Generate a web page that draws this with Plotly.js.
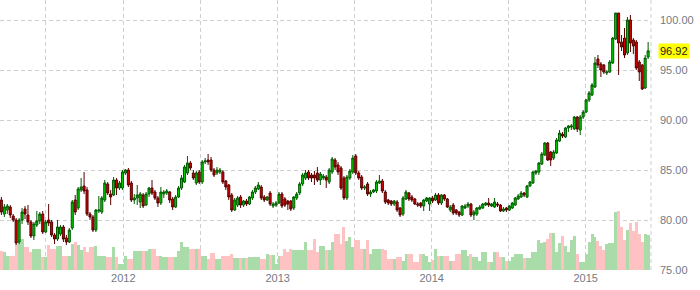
<!DOCTYPE html>
<html>
<head>
<meta charset="utf-8">
<script src="https://cdn.plot.ly/plotly-3.0.1.min.js"></script>
<style>html,body{margin:0;padding:0;background:#fff;}#chart{width:700px;height:290px;}</style>
</head>
<body>
<div id="chart"></div>
<script>
// Weekly bars, first week ending 2011-03-18
const firstWeek = '2011-03-18';
const weekCount = 220;

const openP = [
82.0,80.6,81.0,81.3,80.4,80.0,77.8,80.0,81.1,80.5,
79.8,78.4,79.5,79.9,80.6,78.8,80.0,79.8,78.5,78.1,
78.6,79.3,78.2,77.8,79.2,82.0,81.2,83.0,83.4,83.0,
80.6,80.3,79.0,80.9,80.8,82.0,83.6,82.6,82.5,84.0,
83.2,83.2,84.7,85.0,83.7,82.0,82.2,81.8,82.5,81.5,
82.6,83.2,82.8,82.2,81.7,82.6,82.7,82.8,82.1,81.3,
82.3,83.2,83.8,84.7,85.7,84.7,83.7,84.8,83.8,85.8,
86.0,86.0,85.0,84.7,84.8,84.8,83.9,83.5,82.5,81.0,
81.5,82.3,81.5,81.9,81.6,82.2,82.8,83.1,83.3,82.3,
82.0,82.7,81.4,81.5,81.7,82.6,82.1,81.9,81.9,81.2,
82.2,82.7,83.6,84.2,84.8,84.5,84.5,84.7,84.0,84.2,
84.3,83.8,84.8,86.0,85.5,85.2,84.2,82.2,84.2,84.8,
86.4,84.7,84.3,83.2,83.6,82.6,82.8,82.9,83.7,83.9,
82.8,82.0,81.9,81.6,81.8,81.2,80.6,82.1,82.7,82.3,
82.1,81.6,81.7,81.4,81.9,81.6,82.2,82.0,82.5,81.7,
82.5,82.1,81.0,81.5,81.0,80.8,80.5,81.2,81.4,81.6,
80.5,80.6,81.1,81.2,81.5,81.7,81.4,81.3,81.6,81.5,
80.9,81.2,81.0,81.2,81.5,82.1,82.3,82.7,82.3,83.4,
83.7,84.7,84.8,85.6,86.5,87.7,86.8,86.2,86.7,87.9,
88.6,88.3,89.2,89.3,89.1,90.3,89.0,90.3,90.8,92.0,
92.5,93.3,96.1,95.6,95.5,94.7,94.8,95.7,98.1,100.7,
97.8,98.2,96.7,100.0,98.0,97.8,95.8,95.5,93.2,96.3
];
const highP = [
82.3,81.6,81.6,81.5,80.6,80.2,80.2,81.2,81.4,81.5,
80.0,79.8,80.9,80.8,80.9,80.0,81.6,80.0,78.7,80.0,
79.5,79.5,78.5,79.2,82.0,82.5,83.3,84.2,84.8,83.3,
80.8,80.5,81.1,82.4,82.4,84.0,83.8,83.0,84.3,84.2,
83.9,85.0,85.1,85.2,83.9,82.6,83.5,82.8,82.7,82.8,
83.3,84.0,83.0,82.4,83.3,83.0,83.1,82.9,82.3,82.5,
83.4,84.5,85.5,86.4,85.9,85.0,84.9,85.0,86.0,86.2,
86.6,86.3,85.2,85.3,85.2,85.0,84.0,83.6,82.7,82.2,
82.4,82.5,82.0,82.1,82.4,83.0,83.4,83.8,83.5,82.5,
82.4,82.9,81.8,81.9,82.8,82.8,82.3,82.0,82.0,82.4,
82.8,83.8,84.7,85.0,85.0,84.7,84.9,85.3,84.8,84.6,
84.5,85.2,86.3,86.2,85.8,85.4,84.4,84.5,85.1,86.5,
86.6,84.9,84.5,83.5,83.8,83.0,83.1,84.0,84.5,84.1,
83.0,82.1,82.0,82.0,82.0,81.3,82.4,83.0,82.8,82.5,
82.2,81.8,81.8,82.1,82.3,82.3,82.4,82.7,82.7,82.6,
82.6,82.2,81.5,81.7,81.1,80.9,81.5,81.6,81.8,81.7,
81.0,81.3,81.5,81.7,81.8,82.2,81.7,82.2,81.8,81.6,
81.3,81.3,81.5,81.8,82.3,82.6,82.9,82.8,83.5,83.9,
84.9,85.0,85.8,86.8,87.8,87.8,86.9,87.0,88.2,89.0,
88.8,89.3,89.5,89.6,90.4,90.4,90.5,91.0,92.1,92.9,
93.7,96.3,96.5,95.8,95.6,95.0,96.0,98.3,100.7,100.7,
98.5,99.2,100.3,100.5,98.2,98.0,96.0,95.6,96.5,97.8
];
const lowP = [
80.5,80.3,80.6,80.2,79.8,77.5,77.6,79.6,80.1,79.5,
78.2,78.0,79.3,79.6,78.6,78.7,79.4,78.3,77.6,77.9,
78.4,77.8,77.5,77.7,79.0,80.5,81.0,82.8,82.6,80.4,
80.0,78.8,78.8,80.7,80.6,81.8,82.5,81.5,82.4,82.5,
83.0,83.0,84.5,83.3,81.8,81.6,81.5,81.2,81.2,81.4,
82.3,82.5,82.0,81.3,81.5,82.2,82.5,81.7,81.0,81.2,
82.2,83.0,83.7,84.5,85.0,84.0,83.5,83.6,83.6,85.6,
85.5,84.8,84.3,84.5,84.6,83.6,83.0,82.0,80.8,80.9,
81.3,81.2,81.3,81.4,81.5,82.0,82.6,83.0,82.0,81.8,
81.9,81.4,81.2,81.3,81.6,81.2,81.3,81.0,80.9,81.0,
82.0,82.5,83.4,84.0,84.0,83.8,83.5,83.8,83.5,84.0,
83.2,83.6,84.6,85.0,84.5,83.0,82.0,82.0,84.0,84.6,
84.5,84.0,83.0,83.0,82.4,82.3,82.7,82.7,83.6,82.7,
81.6,81.5,81.4,81.4,80.8,80.3,80.4,82.0,81.9,81.8,
81.5,81.3,81.2,80.9,81.8,80.9,81.7,81.9,81.5,81.5,
81.9,81.2,80.8,80.5,80.5,80.3,80.4,81.1,81.2,80.3,
80.0,80.4,81.0,81.1,81.4,81.3,81.3,81.2,81.3,80.8,
80.8,80.8,80.9,81.1,81.4,82.0,82.2,82.3,82.2,83.3,
83.6,84.5,84.5,85.5,86.4,85.9,85.4,86.0,86.6,87.8,
88.2,88.2,88.8,89.0,89.0,88.8,88.5,90.1,90.7,91.8,
92.4,93.2,95.2,94.3,94.6,94.5,94.7,95.6,98.0,94.5,
96.9,96.2,96.5,96.8,96.6,95.0,93.9,93.0,93.1,96.1
];
const closeP = [
80.8,81.3,81.4,80.5,80.0,77.7,80.0,80.8,80.6,79.8,
78.4,79.6,79.9,80.6,78.8,79.8,79.7,78.5,78.1,79.3,
79.3,78.1,77.8,79.0,81.8,80.8,83.1,83.3,82.9,80.6,
80.3,79.0,81.0,81.0,82.2,83.7,82.7,82.3,84.0,83.2,
83.7,84.8,85.0,83.5,82.0,82.2,82.5,82.6,81.4,82.6,
83.2,82.7,82.2,81.7,82.8,82.8,82.9,82.0,81.3,82.3,
83.2,84.2,85.3,85.7,85.2,84.2,84.7,83.8,85.8,85.9,
85.8,85.0,84.5,85.0,85.0,83.8,83.3,82.3,81.0,82.0,
82.2,81.5,81.9,81.6,82.3,82.8,83.2,83.5,82.2,82.0,
82.3,81.6,81.6,81.7,82.6,81.4,81.5,81.6,81.1,82.3,
82.6,83.6,84.5,84.7,84.2,84.2,84.2,84.0,84.6,84.4,
84.0,85.0,86.1,85.3,84.8,83.2,82.2,84.3,84.9,86.2,
84.7,84.2,83.2,83.3,82.6,82.8,83.0,83.8,83.9,82.9,
81.8,81.7,81.6,81.9,81.0,80.5,82.2,82.8,82.1,82.0,
81.6,81.5,81.4,82.0,82.2,82.2,81.9,82.5,81.7,82.5,
82.1,81.3,81.3,80.7,80.7,80.5,81.4,81.4,81.6,80.5,
80.8,81.2,81.3,81.6,81.7,81.5,81.6,81.8,81.5,80.9,
81.1,81.0,81.4,81.7,82.2,82.4,82.7,82.5,83.4,83.8,
84.8,84.9,85.7,86.6,87.7,86.0,86.0,86.8,88.0,88.7,
88.4,89.2,89.4,89.4,90.3,89.1,90.3,90.8,92.0,92.7,
93.5,95.7,95.5,95.0,94.8,94.8,95.8,98.2,100.7,97.7,
97.3,96.5,100.0,97.7,97.4,95.2,94.8,93.1,96.2,96.92
];
const volume = [
19,18,14,14,14,26,31,31,23,23,
18,21,21,21,13,13,25,21,21,24,
24,14,14,14,26,28,25,20,23,18,
23,23,24,14,14,14,13,13,23,13,
6,6,14,11,11,19,19,19,19,19,
21,21,21,14,14,13,13,13,13,13,
19,28,23,23,21,21,21,21,14,14,
11,17,17,11,11,14,14,14,16,12,
12,12,12,12,13,13,13,13,11,11,
16,15,15,6,14,14,21,18,21,20,
20,20,20,28,20,20,31,18,24,24,
20,20,28,36,36,26,43,29,33,23,
30,30,21,21,30,16,21,21,21,21,
20,11,11,11,13,13,9,16,16,16,
8,8,16,16,14,8,10,21,14,14,
14,14,9,9,16,16,20,20,14,16,
13,13,9,18,18,8,8,18,18,13,
13,9,9,13,16,16,16,12,12,12,
18,18,30,27,28,31,37,37,18,27,
34,24,18,30,34,16,8,8,16,28,
36,33,29,24,20,26,27,27,58,59,
43,30,40,47,39,48,36,28,36,35
];
const lastPrice = 96.92;
const xTickVals = ['2011-07-01','2012-01-01','2012-07-01','2013-01-01','2013-07-01','2014-01-01','2014-07-01','2015-01-01'];
const xTickText = ['','2012','','2013','','2014','','2015'];
const yTickVals = [75,80,85,90,95,100];

const dates = [];
const t0 = Date.parse(firstWeek + 'T00:00:00Z');
for (let i = 0; i < weekCount; i++) {
  dates.push(new Date(t0 + i * 7 * 86400000).toISOString().slice(0, 10));
}
const volColors = closeP.map((c, i) => c >= openP[i] ? '#aadcaa' : '#ffc2c2');

const gridCol = '#cfcfcf';
const labelFont = {family: 'Liberation Sans, Arial, sans-serif', size: 11, color: '#747a84'};

const traces = [
  {
    type: 'bar', x: dates, y: volume, xaxis: 'x', yaxis: 'y',
    marker: {color: volColors, line: {width: 0}},
    width: 7 * 86400000, hoverinfo: 'skip', showlegend: false
  },
  {
    type: 'candlestick', x: dates, open: openP, high: highP, low: lowP, close: closeP,
    xaxis: 'x', yaxis: 'y2',
    increasing: {line: {color: '#005a00', width: 1}, fillcolor: '#00cc00'},
    decreasing: {line: {color: '#5a0000', width: 1}, fillcolor: '#d40000'},
    whiskerwidth: 0, showlegend: false
  }
];

const layout = {
  width: 700, height: 290,
  margin: {l: 0, r: 49, t: 0, b: 20},
  paper_bgcolor: '#ffffff', plot_bgcolor: '#ffffff',
  showlegend: false, bargap: 0, boxgap: 0.02,
  xaxis: {
    type: 'date', range: ['2011-03-14 17:00', '2015-06-04 19:00'],
    rangeslider: {visible: false},
    tickmode: 'array', tickvals: xTickVals, ticktext: xTickText,
    showgrid: true, gridcolor: gridCol, gridwidth: 1, griddash: '4px,3px',
    ticks: '', showline: false, zeroline: false,
    tickfont: labelFont
  },
  yaxis: {
    range: [0, 270], visible: false, showgrid: false, zeroline: false, fixedrange: true
  },
  yaxis2: {
    overlaying: 'y', side: 'right', anchor: 'x',
    range: [75, 102], tickmode: 'array', tickvals: yTickVals, tickformat: '.2f',
    showgrid: true, gridcolor: gridCol, gridwidth: 1, griddash: '4px,3px',
    ticks: '', showline: false, zeroline: false, ticklabelstandoff: 8,
    tickfont: labelFont
  },
  shapes: [
    {type: 'line', xref: 'paper', yref: 'paper', x0: 1, x1: 1, y0: 0, y1: 1,
     line: {color: gridCol, width: 1, dash: '4px,3px'}, layer: 'below'}
  ],
  annotations: [
    {xref: 'paper', x: 1, xanchor: 'left', xshift: 7, yref: 'y2', y: lastPrice,
     text: lastPrice.toFixed(2), showarrow: false, bgcolor: '#ffff00', borderpad: 1,
     font: {family: 'Liberation Sans, Arial, sans-serif', size: 11, color: '#222222'}}
  ]
};

Plotly.newPlot('chart', traces, layout, {staticPlot: true, displayModeBar: false});
</script>
</body>
</html>
